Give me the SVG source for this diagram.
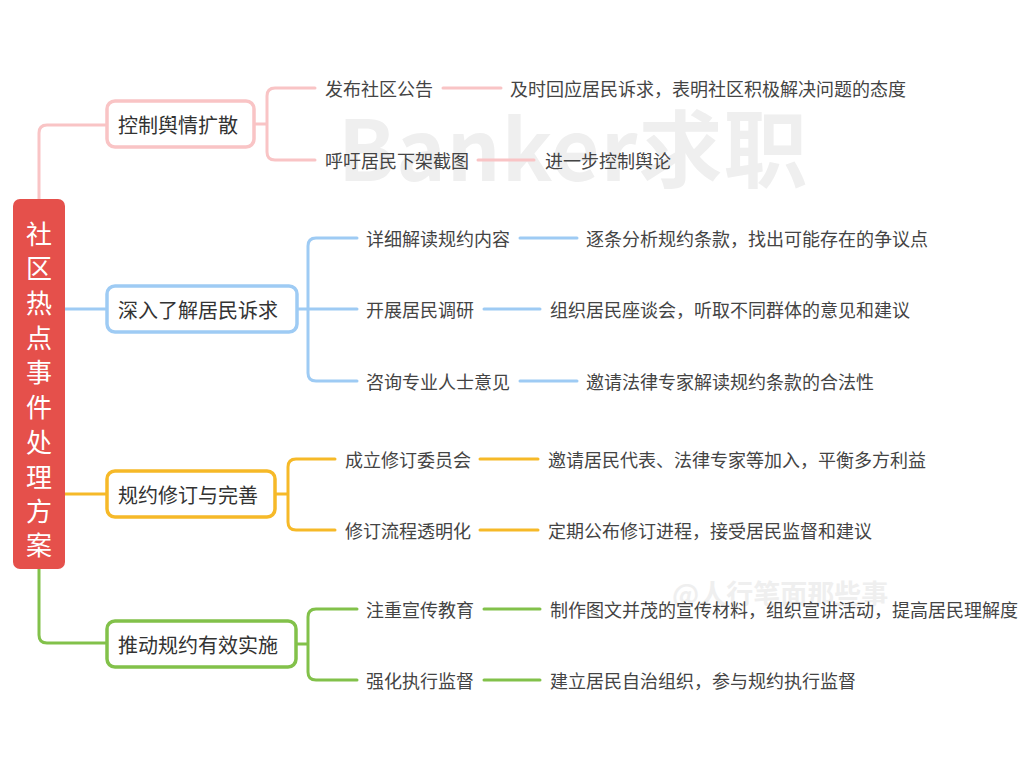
<svg xmlns="http://www.w3.org/2000/svg" width="1024" height="768" viewBox="0 0 1024 768">
<style>
text{font-family:"Noto Sans CJK SC","Noto Sans",sans-serif;dominant-baseline:central}
.wm{fill:#EFEFEF;font-weight:bold}
.root{fill:#E5504B}
.rt{fill:#fff;font-size:26px;text-anchor:middle}
.bt{fill:#333;font-size:20px}
.st{fill:#444;font-size:18px}
.box{fill:#fff;stroke-width:3.5}
.c{fill:none;stroke-width:3;stroke-linecap:round;stroke-linejoin:round}
.pk{stroke:#F9C4C5}
.bl{stroke:#9ECBF4}
.or{stroke:#F6B928}
.gr{stroke:#82C14A}
</style>
<rect width="1024" height="768" fill="#fff"/>
<text class="wm" x="338" y="144" font-size="84" font-family="Liberation Sans,sans-serif" letter-spacing="1">Banker求职</text>
<text class="wm" x="672" y="592" font-size="27">@人行笔面那些事</text>
<g id="connectors">
<path class="c pk" d="M39 199 V133 Q39 125 47 125 H107"/>
<path class="c bl" d="M65 309 H107"/>
<path class="c or" d="M65 494 H107"/>
<path class="c gr" d="M39 569 V635 Q39 643 47 643 H107"/>
<path class="c pk" d="M254 124 H267 M315 88 H275 Q267 88 267 96 V152 Q267 160 275 160 H315"/>
<path class="c pk" d="M443 88 H501 M478 160 H534"/>
<path class="c bl" d="M297 309 H357 M357 238 H316 Q308 238 308 246 V373 Q308 381 316 381 H357"/>
<path class="c bl" d="M520 238 H577 M484 309 H540 M520 381 H577"/>
<path class="c or" d="M275 494 H288 M335 459 H296 Q288 459 288 467 V522 Q288 530 296 530 H335"/>
<path class="c or" d="M480 459 H538 M480 530 H538"/>
<path class="c gr" d="M296 644 H308 M357 609 H316 Q308 609 308 617 V672 Q308 680 316 680 H357"/>
<path class="c gr" d="M484 609 H540 M484 680 H540"/>
</g>
<g id="root">
<rect class="root" x="13" y="199" width="52" height="370" rx="7"/>
<text class="rt"><tspan x="39" y="232">社</tspan><tspan x="39" y="266">区</tspan><tspan x="39" y="301">热</tspan><tspan x="39" y="336">点</tspan><tspan x="39" y="370">事</tspan><tspan x="39" y="405">件</tspan><tspan x="39" y="440">处</tspan><tspan x="39" y="475">理</tspan><tspan x="39" y="509">方</tspan><tspan x="39" y="543">案</tspan></text>
</g>
<g id="b1">
<rect class="box pk" x="107" y="101" width="147" height="46" rx="8"/>
<text class="bt" x="118" y="124">控制舆情扩散</text>
</g>
<g id="b1s1"><text class="st" x="325" y="88">发布社区公告</text></g>
<g id="b1s1d"><text class="st" x="510" y="88">及时回应居民诉求，表明社区积极解决问题的态度</text></g>
<g id="b1s2"><text class="st" x="325" y="160">呼吁居民下架截图</text></g>
<g id="b1s2d"><text class="st" x="545" y="160">进一步控制舆论</text></g>
<g id="b2">
<rect class="box bl" x="107" y="286" width="190" height="46" rx="8"/>
<text class="bt" x="118" y="309">深入了解居民诉求</text>
</g>
<g id="b2s1"><text class="st" x="366" y="238">详细解读规约内容</text></g>
<g id="b2s1d"><text class="st" x="586" y="238">逐条分析规约条款，找出可能存在的争议点</text></g>
<g id="b2s2"><text class="st" x="366" y="309">开展居民调研</text></g>
<g id="b2s2d"><text class="st" x="550" y="309">组织居民座谈会，听取不同群体的意见和建议</text></g>
<g id="b2s3"><text class="st" x="366" y="381">咨询专业人士意见</text></g>
<g id="b2s3d"><text class="st" x="586" y="381">邀请法律专家解读规约条款的合法性</text></g>
<g id="b3">
<rect class="box or" x="107" y="471" width="168" height="46" rx="8"/>
<text class="bt" x="118" y="494">规约修订与完善</text>
</g>
<g id="b3s1"><text class="st" x="345" y="459">成立修订委员会</text></g>
<g id="b3s1d"><text class="st" x="548" y="459">邀请居民代表、法律专家等加入，平衡多方利益</text></g>
<g id="b3s2"><text class="st" x="345" y="530">修订流程透明化</text></g>
<g id="b3s2d"><text class="st" x="548" y="530">定期公布修订进程，接受居民监督和建议</text></g>
<g id="b4">
<rect class="box gr" x="107" y="621" width="189" height="46" rx="8"/>
<text class="bt" x="118" y="644">推动规约有效实施</text>
</g>
<g id="b4s1"><text class="st" x="366" y="609">注重宣传教育</text></g>
<g id="b4s1d"><text class="st" x="550" y="609">制作图文并茂的宣传材料，组织宣讲活动，提高居民理解度</text></g>
<g id="b4s2"><text class="st" x="366" y="680">强化执行监督</text></g>
<g id="b4s2d"><text class="st" x="550" y="680">建立居民自治组织，参与规约执行监督</text></g>
</svg>
